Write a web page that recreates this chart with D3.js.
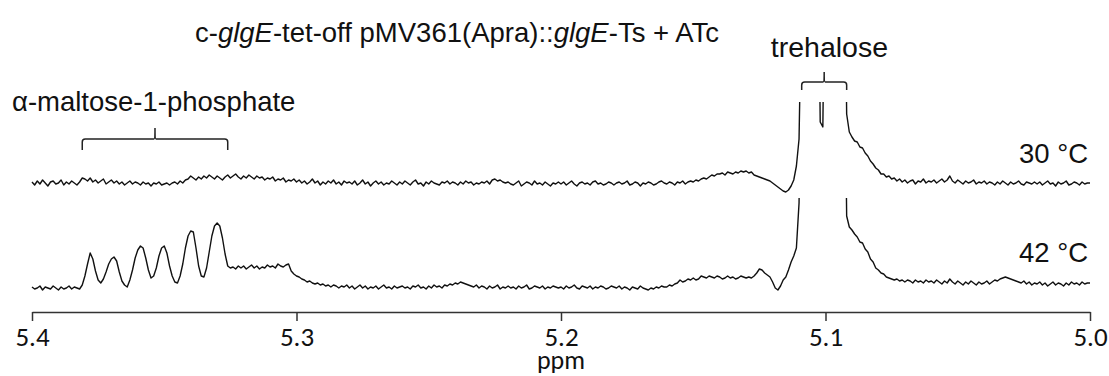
<!DOCTYPE html>
<html>
<head>
<meta charset="utf-8">
<title>glgE NMR spectra</title>
<script src="https://cdn.jsdelivr.net/npm/d3@7"></script>
<style>
  body { margin: 0; background: #fff; }
  #nmr-chart { width: 1109px; height: 376px; }
</style>
</head>
<body>
<div id="nmr-chart"></div>
<script>
// NMR spectra, anomeric region (5.4 - 5.0 ppm), two growth temperatures

// ppm range of the spectra, one point every 0.001 ppm
const ppmStart = 5.4;
const ppmEnd = 5.0;
const ppmStep = 0.001;

const tickValues = [5.4, 5.3, 5.2, 5.1, 5.0];
const traceLabels = ["30 °C", "42 °C"];

// intensities (arbitrary units), 30 °C spectrum
const intensity30 = [
  2,-1,3,0,4,1,-2,2,3,0,1,4,-1,2,0,3,1,-1,2,6,
  5,3,6,2,4,1,3,5,0,2,4,1,3,0,2,-1,1,3,0,2,
  1,-1,2,0,1,-2,1,0,2,-1,0,1,-1,1,2,0,3,1,4,5,
  8,6,4,7,5,8,6,9,7,5,8,6,4,7,9,6,8,10,7,5,
  8,6,9,7,5,8,6,7,4,6,5,7,3,5,4,6,2,4,3,5,
  2,4,1,3,0,2,5,1,3,-1,2,0,3,1,4,0,2,-1,3,1,
  2,0,3,-1,1,4,0,2,-2,1,3,0,2,-1,1,0,3,1,-1,2,
  0,3,1,-1,2,4,0,1,-2,2,0,3,1,0,-1,2,1,3,0,2,
  1,-1,2,0,3,1,2,-1,1,0,2,1,3,0,4,5,3,4,2,1,
  2,0,-1,1,3,-2,0,2,1,-1,3,0,1,-1,2,0,-2,1,0,2,
  0,2,-1,1,3,0,-2,1,2,0,1,-1,2,3,0,1,-1,0,2,1,
  -1,1,2,0,1,3,-1,0,2,1,-2,1,0,2,1,-1,0,2,3,1,
  0,2,1,-1,2,1,3,0,2,3,2,4,3,5,6,5,7,9,8,10,
  10,11,9,12,11,10,12,11,13,12,13,11,12,9,8,7,6,5,4,3,
  1,-1,-3,-5,-7,-8,-6,-2,4,18,45,200,300,300,300,300,300,300,62,57,
  300,300,300,300,300,300,300,300,70,52,47,43,42,37,36,31,28,23,20,16,
  14,10,10,7,8,5,6,3,5,2,4,1,3,4,0,3,2,5,1,3,
  2,4,1,3,5,2,4,8,3,1,4,2,0,3,1,2,4,0,2,1,
  3,0,2,1,-1,2,0,3,1,-1,2,0,1,3,0,-1,2,1,0,2,
  0,2,-1,1,3,0,1,-2,2,0,1,3,-1,0,2,1,-1,2,0,1,
  1
];

// intensities, 42 °C spectrum
const intensity42 = [
  1,-1,0,2,-2,1,0,-1,2,0,-2,1,-1,0,2,-1,1,0,-1,3,
  12,24,35,29,17,8,5,9,16,24,29,31,27,16,7,3,1,8,18,30,
  38,42,40,30,18,10,12,20,32,40,42,35,22,12,6,5,12,24,40,52,
  57,56,40,22,12,11,20,36,52,62,65,62,50,34,22,20,21,19,22,20,
  22,19,21,23,20,22,19,21,20,23,21,22,20,24,22,21,23,24,17,14,
  12,11,9,8,6,7,5,4,5,3,4,2,3,1,3,2,0,2,1,3,
  0,2,-1,1,3,0,2,-1,1,0,2,-1,1,3,0,1,-1,2,0,1,
  2,0,1,-1,2,1,3,0,1,-1,2,0,3,1,2,0,3,2,4,3,
  5,4,6,5,4,3,2,1,3,0,2,1,-1,2,0,1,3,-1,1,0,
  2,0,1,-1,2,0,1,3,-1,0,2,1,0,2,-1,1,0,2,1,0,
  1,-1,2,0,1,3,0,-1,2,1,0,2,-1,1,0,2,1,-1,0,2,
  1,0,2,-1,1,0,-2,1,0,-1,2,0,-1,-2,0,-1,1,0,2,1,
  1,3,2,4,5,8,6,7,9,8,10,8,9,12,11,10,12,11,10,12,
  11,9,10,12,10,11,9,10,12,11,10,11,10,12,15,19,18,15,13,11,
  6,0,-2,2,8,11,18,26,32,40,85,300,300,300,300,300,300,300,300,300,
  300,300,300,300,300,300,300,300,72,61,58,54,51,46,45,39,36,29,26,20,
  18,15,14,11,10,9,8,9,7,8,6,8,7,5,8,6,7,5,8,6,
  7,5,8,6,4,7,5,9,6,4,7,5,3,6,4,7,5,3,6,4,
  5,7,4,6,8,7,9,10,11,10,9,8,7,6,5,7,4,6,3,5,
  4,6,3,5,2,4,6,3,5,4,2,5,3,6,4,5,3,6,4,5,
  5
];

// bracketed assignments (ppm ranges)
const maltoseRange = [5.381, 5.326];
const trehaloseRange = [5.109, 5.092];

function drawSpectra() {
  const width = 1109;
  const height = 376;
  const container = d3.select('#nmr-chart');
  container.html('');

  const svg = container.append('svg')
    .attr('width', width)
    .attr('height', height);

  const x = d3.scaleLinear()
    .domain([ppmStart, ppmEnd])
    .range([32, 1090]);

  // intensity -> vertical offset from the trace baseline
  const y = d3.scaleLinear()
    .domain([0, 100])
    .range([0, -100]);

  const labelFont = 'Liberation Sans, Arial, sans-serif';
  const axisFont = 'Carlito, DejaVu Sans Condensed, sans-serif';

  const traces = [
    { label: traceLabels[0], values: intensity30, base: 184, clip: 82, labelY: 163 },
    { label: traceLabels[1], values: intensity42, base: 288, clip: 90, labelY: 262 }
  ];

  const line = d3.line()
    .x((d, i) => x(ppmStart - i * ppmStep))
    .y(d => y(d));

  const defs = svg.append('defs');

  traces.forEach((t, k) => {
    // peaks run off scale, so clip each trace at its top
    defs.append('clipPath')
      .attr('id', 'clip' + k)
      .append('rect')
      .attr('x', x(ppmStart) - 5)
      .attr('y', y(t.clip))
      .attr('width', x(ppmEnd) - x(ppmStart) + 10)
      .attr('height', y(-100) - y(t.clip));

    const g = svg.append('g')
      .attr('transform', `translate(0,${t.base})`);

    g.append('path')
      .datum(t.values)
      .attr('clip-path', `url(#clip${k})`)
      .attr('fill', 'none')
      .attr('stroke', '#111')
      .attr('stroke-width', 1.4)
      .attr('stroke-linejoin', 'round')
      .attr('d', line);

    svg.append('text')
      .attr('x', 1088)
      .attr('y', t.labelY)
      .attr('text-anchor', 'end')
      .attr('font-family', labelFont)
      .attr('font-size', 27.5)
      .attr('fill', '#111')
      .text(t.label);
  });

  // ppm axis
  const axis = d3.axisBottom(x)
    .tickValues(tickValues)
    .tickFormat(d3.format('.1f'))
    .tickSize(9)
    .tickSizeOuter(0)
    .tickPadding(6);

  const ax = svg.append('g')
    .attr('transform', 'translate(0,312)')
    .call(axis);
  ax.select('.domain').attr('stroke', '#333').attr('stroke-width', 1.5);
  ax.selectAll('.tick line').attr('stroke', '#333').attr('stroke-width', 1.5);
  ax.selectAll('.tick text')
    .attr('fill', '#111')
    .attr('font-family', axisFont)
    .attr('font-size', 27);

  svg.append('text')
    .attr('x', x(5.2))
    .attr('y', 369)
    .attr('text-anchor', 'middle')
    .attr('font-family', axisFont)
    .attr('font-size', 26)
    .attr('fill', '#111')
    .text('ppm');

  // brackets over the assigned signals
  function bracket(range, yLine, drop, rise) {
    const x0 = x(range[0]), x1 = x(range[1]), xm = (x0 + x1) / 2;
    const r = 3;
    const d = `M${x0},${yLine + drop} L${x0},${yLine + r} Q${x0},${yLine} ${x0 + r},${yLine}` +
      ` L${xm - 1},${yLine} Q${xm},${yLine} ${xm},${yLine - rise}` +
      ` Q${xm},${yLine} ${xm + 1},${yLine} L${x1 - r},${yLine} Q${x1},${yLine} ${x1},${yLine + r} L${x1},${yLine + drop}`;
    svg.append('path')
      .attr('d', d)
      .attr('fill', 'none')
      .attr('stroke', '#222')
      .attr('stroke-width', 1.5);
  }
  bracket(maltoseRange, 139, 11, 11);
  bracket(trehaloseRange, 82, 8, 10);

  svg.append('text')
    .attr('x', 12)
    .attr('y', 111)
    .attr('font-family', labelFont)
    .attr('font-size', 27.5)
    .attr('fill', '#111')
    .text('α-maltose-1-phosphate');

  svg.append('text')
    .attr('x', x(5.0985))
    .attr('y', 57)
    .attr('text-anchor', 'middle')
    .attr('font-family', labelFont)
    .attr('font-size', 28.5)
    .attr('fill', '#111')
    .text('trehalose');

  // title with italic gene names
  const title = svg.append('text')
    .attr('x', 457)
    .attr('y', 42)
    .attr('text-anchor', 'middle')
    .attr('font-family', labelFont)
    .attr('font-size', 27.5)
    .attr('fill', '#111');
  title.append('tspan').text('c-');
  title.append('tspan').attr('font-style', 'italic').text('glgE');
  title.append('tspan').text('-tet-off pMV361(Apra)::');
  title.append('tspan').attr('font-style', 'italic').text('glgE');
  title.append('tspan').text('-Ts + ATc');

  console.log('spectra drawn');
}

drawSpectra();
</script>
</body>
</html>
